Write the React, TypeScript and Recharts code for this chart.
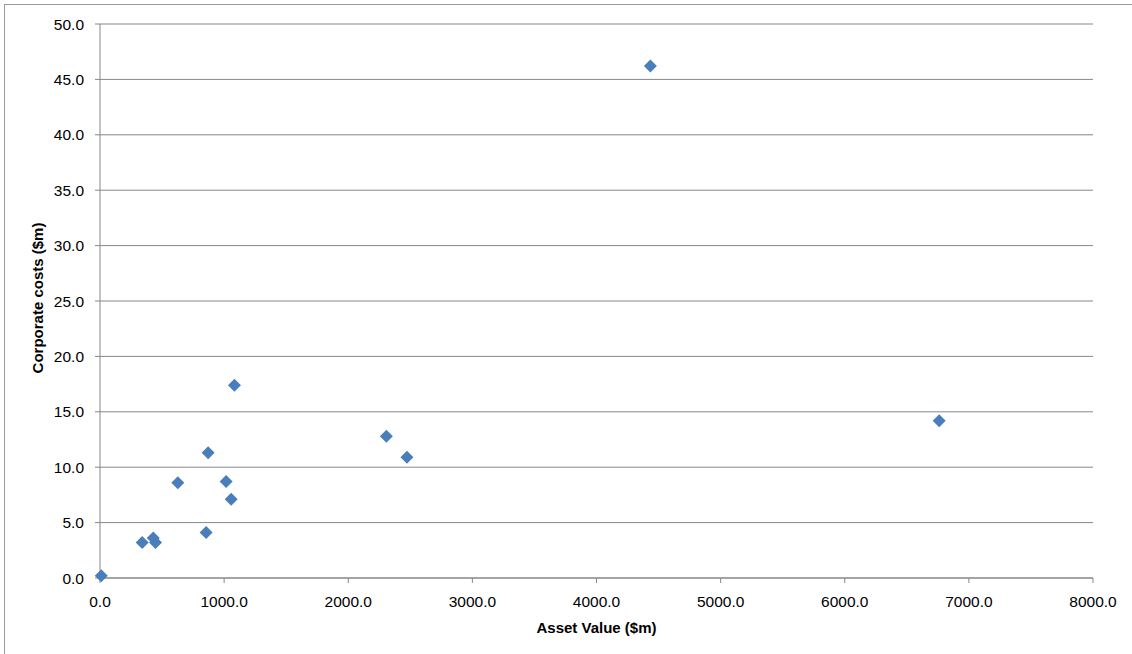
import { CartesianGrid, Scatter, ScatterChart, XAxis, YAxis } from "recharts";

// Asset value vs corporate costs, both in $m
const assetValue = [10, 340, 429, 447, 627, 855, 871, 1016, 1057, 1083, 2307, 2473, 4434, 6761];
const corporateCosts = [0.2, 3.2, 3.6, 3.2, 8.6, 4.1, 11.3, 8.7, 7.1, 17.4, 12.8, 10.9, 46.2, 14.2];

const xTicks = [0, 1000, 2000, 3000, 4000, 5000, 6000, 7000, 8000];
const yTicks = [0, 5, 10, 15, 20, 25, 30, 35, 40, 45, 50];

const points = assetValue.map((x, i) => ({ x, y: corporateCosts[i] }));

const FONT = '"Liberation Sans", Arial, sans-serif';
const AXIS = "#878787";
const MARKER = "#4a7ebb";

const tickStyle = { fontSize: 15.5, fill: "#000", fontFamily: FONT };
const titleStyle = { fontSize: 15, fontWeight: 700, fill: "#000", fontFamily: FONT };

// square diamond marker, 13px corner to corner
function Diamond(props: { cx?: number; cy?: number }) {
  const { cx = 0, cy = 0 } = props;
  const r = 6.5;
  return (
    <polygon
      points={`${cx},${cy - r} ${cx + r},${cy} ${cx},${cy + r} ${cx - r},${cy}`}
      fill={MARKER}
    />
  );
}

export default function App() {
  return (
    <div style={{ position: "absolute", left: 0, top: 0, width: 1132, height: 654, background: "#fff" }}>
      <div
        style={{
          position: "absolute",
          left: 4,
          top: 4,
          width: 1140,
          height: 660,
          borderTop: "1px solid #9a9a9a",
          borderLeft: "1px solid #9a9a9a",
        }}
      />
      <ScatterChart
        width={1132}
        height={654}
        margin={{ top: 24, right: 39, bottom: 0, left: 0 }}
        style={{ position: "absolute", left: 0, top: 0 }}
      >
        <CartesianGrid horizontal vertical={false} stroke={AXIS} />
        <XAxis
          type="number"
          dataKey="x"
          domain={[0, 8000]}
          ticks={xTicks}
          interval={0}
          tickFormatter={(v: number) => v.toFixed(1)}
          height={76}
          tickSize={5}
          tickMargin={12.5}
          stroke={AXIS}
          tick={tickStyle}
          label={{ value: "Asset Value ($m)", position: "insideBottom", offset: 21, style: titleStyle }}
        />
        <YAxis
          type="number"
          dataKey="y"
          domain={[0, 50]}
          ticks={yTicks}
          interval={0}
          tickFormatter={(v: number) => v.toFixed(1)}
          width={100}
          tickSize={5}
          tickMargin={11}
          stroke={AXIS}
          tick={tickStyle}
          label={{ value: "Corporate costs ($m)", angle: -90, position: "center", dx: -12, dy: -3, style: titleStyle }}
        />
        <Scatter data={points} shape={<Diamond />} isAnimationActive={false} />
      </ScatterChart>
    </div>
  );
}
